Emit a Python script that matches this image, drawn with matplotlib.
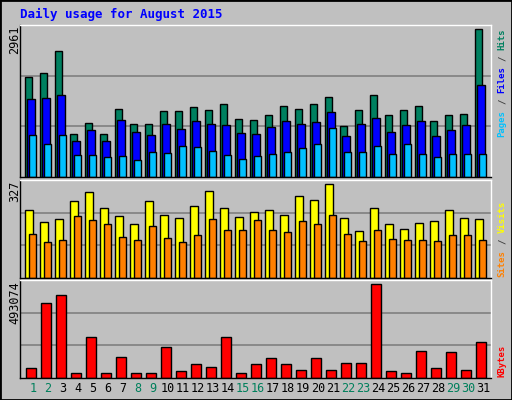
import matplotlib.pyplot as plt
import numpy as np

days = [str(d) for d in range(1, 32)]
weekend = {1, 2, 8, 9, 15, 16, 22, 23, 29, 30}

hits = [1997, 2077, 2519, 851, 1072, 851, 1353, 1052, 1052, 1313, 1313, 1394, 1333, 1454, 1152, 1132,
        1233, 1414, 1353, 1454, 1595, 1012, 1333, 1635, 1233, 1333, 1414, 1112, 1233, 1253, 2961]
files = [1554, 1575, 1635, 730, 931, 730, 1132, 891, 831, 1052, 951, 1112, 1052, 1032, 871, 851,
         992, 1112, 1052, 1092, 1293, 811, 1052, 1173, 891, 1032, 1112, 811, 931, 1032, 1836]
pages = [831, 670, 831, 449, 449, 409, 429, 348, 509, 489, 630, 610, 529, 449, 369, 429,
         469, 509, 590, 670, 972, 509, 509, 630, 469, 670, 469, 409, 469, 469, 469]
visits = [235, 196, 206, 267, 299, 245, 217, 188, 267, 220, 210, 249, 302, 242, 213, 231,
          235, 220, 284, 270, 327, 210, 164, 245, 188, 171, 192, 199, 235, 210, 206]
sites = [153, 124, 132, 217, 203, 188, 142, 132, 181, 139, 124, 149, 206, 167, 167, 203,
         167, 160, 199, 188, 220, 153, 128, 167, 135, 132, 132, 128, 149, 149, 132]
kbytes = [50400, 396000, 433800, 28800, 217800, 28800, 109800, 28800, 28800, 163800, 34200,
          72000, 55800, 217800, 28800, 72000, 104400, 72000, 39600, 104400, 39600, 77400,
          77400, 493074, 34200, 28800, 142200, 50400, 136800, 39600, 190800]

W, H = 512, 400
fig = plt.figure(figsize=(W / 100, H / 100), dpi=100, facecolor="#C0C0C0")
mono = "DejaVu Sans Mono"
x = np.arange(31)
XMAX = 471 / 15


def panel(top, bottom):
    ax = fig.add_axes([20 / W, 1 - bottom / H, 471 / W, (bottom - top) / H])
    ax.set_facecolor("#C0C0C0")
    ax.set_xlim(0, XMAX)
    ax.set_xticks([])
    ax.set_yticks([])
    for s in ax.spines.values():
        s.set_color("black")
        s.set_linewidth(1)
    ax.spines["right"].set_color("white")
    ax.spines["top"].set_color("white")
    return ax


def grid(ax, ymax):
    ax.set_ylim(0, ymax)
    for f in (1 / 3, 2 / 3):
        ax.axhline(ymax * f, color="#808080", lw=1.2, zorder=0)


kw = dict(align="edge", edgecolor="black", linewidth=1, zorder=2)

ax1 = panel(25, 177)
grid(ax1, 3041)
ax1.bar(x + 0.33, hits, 0.47, color="#008060", **kw)
ax1.bar(x + 0.47, files, 0.5, color="#0000FF", **kw)
ax1.bar(x + 0.6, pages, 0.47, color="#00C0FF", **kw)

ax2 = panel(180, 278)
grid(ax2, 341)
ax2.bar(x + 0.35, visits, 0.53, color="#FFFF00", **kw)
ax2.bar(x + 0.62, sites, 0.47, color="#FF8000", **kw)

ax3 = panel(280, 378)
grid(ax3, 514668)
ax3.bar(x + 0.42, kbytes, 0.67, color="#FF0000", **kw)

for i, d in enumerate(days):
    fig.text((20 + (i + 0.87) * 15) / W, 1 - 389 / H, d, ha="center", va="center",
             fontsize=8.5, family=mono, color="#00805C" if int(d) in weekend else "black")

fig.text(20 / W, 1 - 14 / H, "Daily usage for August 2015", fontsize=9, family=mono,
         weight="bold", color="#0000FF", va="center")

for y0, lab in ((26, str(max(hits))), (181, str(max(visits))), (281, str(max(kbytes)))):
    fig.text(15 / W, 1 - y0 / H, lab, rotation=90, ha="center", va="top", fontsize=8.5, family=mono)

CH = 5.45  # pixel advance per character at 6.5pt mono


def side(y_bottom, parts):
    y = y_bottom
    for txt, col in parts:
        n = len(txt)
        fig.text(502 / W, 1 - (y - n * CH / 2) / H, txt, rotation=90, ha="center",
                 va="center", fontsize=6.5, family=mono, weight="bold", color=col)
        y -= n * CH


side(137, [("Pages", "#00C0FF"), ("/", "#404040"), ("Files", "#0000FF"),
           ("/", "#404040"), ("Hits", "#008060")] and
     [("Pages", "#00C0FF"), (" ", None), ("/", "#404040"), (" ", None), ("Files", "#0000FF"),
      (" ", None), ("/", "#404040"), (" ", None), ("Hits", "#008060")])
side(277, [("Sites", "#FF8000"), (" ", None), ("/", "#404040"), (" ", None), ("Visits", "#FFFF00")])
side(377, [("KBytes", "#FF0000")])

border = plt.Rectangle((0, 0), 1, 1, transform=fig.transFigure, fill=False,
                       edgecolor="black", lw=2)
fig.add_artist(border)
fig.savefig("out.png", dpi=100, facecolor=fig.get_facecolor())
